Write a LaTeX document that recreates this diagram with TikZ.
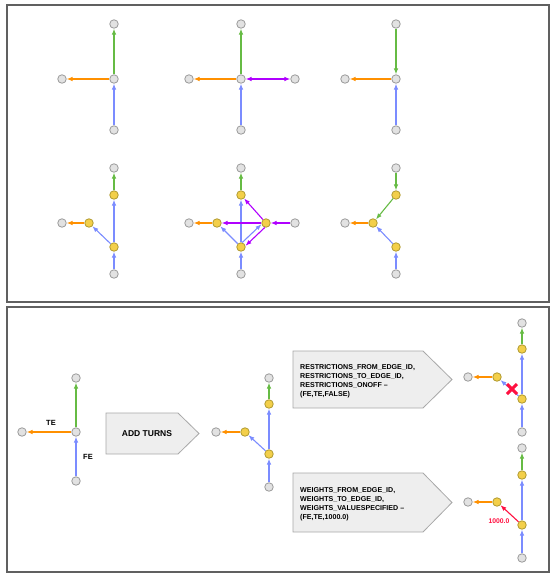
\documentclass[tikz,border=0pt]{standalone}
\usepackage{fontspec}
\setmainfont{Liberation Sans}
\usetikzlibrary{arrows.meta,shapes.misc}
\definecolor{cgreen}{HTML}{66BB44}
\definecolor{corange}{HTML}{FF9000}
\definecolor{cblue}{HTML}{7B8CFF}
\definecolor{cpurple}{HTML}{B000FF}
\definecolor{cred}{HTML}{FF1040}
\definecolor{gfill}{HTML}{E2E2E2}
\definecolor{gline}{HTML}{9A9A9A}
\definecolor{yfill}{HTML}{F3CF4A}
\definecolor{yline}{HTML}{B09A30}
\definecolor{frame}{HTML}{606060}
\definecolor{boxfill}{HTML}{EEEEEE}
\definecolor{boxline}{HTML}{A8A8A8}
\tikzset{
  gn/.style={circle,draw=gline,fill=gfill,minimum size=8.5pt,inner sep=0pt,line width=0.8pt},
  yn/.style={circle,draw=yline,fill=yfill,minimum size=8.5pt,inner sep=0pt,line width=0.8pt},
  ed/.style={line width=1.1pt,-{Latex[length=6pt,width=4.6pt]}},
  eg/.style={ed,draw=cgreen},
  eo/.style={ed,draw=corange},
  eb/.style={ed,draw=cblue},
  ep/.style={ed,draw=cpurple},
  er/.style={ed,draw=cred},
  panel/.style={draw=frame,line width=1.8pt},
  sig/.style={fill=boxfill,draw=boxline,line width=0.8pt},
  lbl/.style={font=\bfseries\fontsize{7.5}{9}\selectfont,inner sep=0pt},
  boxtxt/.style={font=\bfseries\fontsize{7.1}{9}\selectfont,align=left,inner sep=0pt,anchor=west}
}
\begin{document}
\begin{tikzpicture}[x=1pt,y=-1pt]
\useasboundingbox (0,0) rectangle (551,574);
\draw[panel] (7,5) rectangle (549,302);
\draw[panel] (7,307) rectangle (549,572);
% ---------- row 1 ----------
\node[gn] (at) at (114,24) {};
\node[gn] (ac) at (114,79) {};
\node[gn] (al) at (62,79) {};
\node[gn] (ab) at (114,130) {};
\draw[eg] (ac) -- (at);
\draw[eo] (ac) -- (al);
\draw[eb] (ab) -- (ac);
\node[gn] (bt) at (241,24) {};
\node[gn] (bc) at (241,79) {};
\node[gn] (bl) at (189,79) {};
\node[gn] (br) at (295,79) {};
\node[gn] (bb) at (241,130) {};
\draw[eg] (bc) -- (bt);
\draw[eo] (bc) -- (bl);
\draw[eb] (bb) -- (bc);
\draw[ep,{Latex[length=6pt,width=4.6pt]}-{Latex[length=6pt,width=4.6pt]}] (bc) -- (br);
\node[gn] (ct) at (396,24) {};
\node[gn] (cc) at (396,79) {};
\node[gn] (cl) at (345,79) {};
\node[gn] (cb) at (396,130) {};
\draw[eg] (ct) -- (cc);
\draw[eo] (cc) -- (cl);
\draw[eb] (cb) -- (cc);
% ---------- row 2 ----------
\node[gn] (dt) at (114,168) {};
\node[yn] (dyt) at (114,195) {};
\node[gn] (dl) at (62,223) {};
\node[yn] (dyl) at (89,223) {};
\node[yn] (dyb) at (114,247) {};
\node[gn] (db) at (114,274) {};
\draw[eg] (dyt) -- (dt);
\draw[eb] (dyb) -- (dyt);
\draw[eb] (db) -- (dyb);
\draw[eb] (dyb) -- (dyl);
\draw[eo] (dyl) -- (dl);
\node[gn] (et) at (241,168) {};
\node[yn] (eyt) at (241,195) {};
\node[gn] (el) at (189,223) {};
\node[yn] (eyl) at (217,223) {};
\node[yn] (eyr) at (266,223) {};
\node[gn] (er) at (295,223) {};
\node[yn] (eyb) at (241,247) {};
\node[gn] (eb) at (241,274) {};
\draw[eg] (eyt) -- (et);
\draw[eb] (eyb) -- (eyt);
\draw[eb] (eb) -- (eyb);
\draw[eb] (eyb) -- (eyl);
\draw[eb] (eyb.75) -- (eyr.195);
\draw[ep] (eyr.255) -- (eyb.15);
\draw[ep] (eyr) -- (eyt);
\draw[ep] (eyr) -- (eyl);
\draw[ep] (er) -- (eyr);
\draw[eo] (eyl) -- (el);
\node[gn] (ft) at (396,168) {};
\node[yn] (fyt) at (396,195) {};
\node[gn] (fl) at (345,223) {};
\node[yn] (fyl) at (373,223) {};
\node[yn] (fyb) at (396,247) {};
\node[gn] (fb) at (396,274) {};
\draw[eg] (ft) -- (fyt);
\draw[eg] (fyt) -- (fyl);
\draw[eb] (fb) -- (fyb);
\draw[eb] (fyb) -- (fyl);
\draw[eo] (fyl) -- (fl);
% ---------- bottom panel ----------
\node[gn] (gt) at (76,378) {};
\node[gn] (gc) at (76,432) {};
\node[gn] (gl) at (22,432) {};
\node[gn] (gb) at (76,481) {};
\draw[eg] (gc) -- (gt);
\draw[eo] (gc) -- (gl);
\draw[eb] (gb) -- (gc);
\node[lbl] (te) at (51,423) {TE};
\node[lbl] (fe) at (88,457) {FE};
\draw[sig] (106,413) -- (178,413) -- (199,433.5) -- (178,454) -- (106,454) -- cycle;
\node[lbl,font=\bfseries\fontsize{8.5}{10}\selectfont] (add) at (147,434) {ADD TURNS};
\node[gn] (ht) at (269,378) {};
\node[yn] (hyt) at (269,404) {};
\node[gn] (hl) at (216,432) {};
\node[yn] (hyl) at (245,432) {};
\node[yn] (hyb) at (269,454) {};
\node[gn] (hb) at (269,487) {};
\draw[eg] (hyt) -- (ht);
\draw[eb] (hyb) -- (hyt);
\draw[eb] (hb) -- (hyb);
\draw[eb] (hyb) -- (hyl);
\draw[eo] (hyl) -- (hl);
\draw[sig] (293,351) -- (423,351) -- (452,379.5) -- (423,408) -- (293,408) -- cycle;
\node[boxtxt] (rtxt) at (300,381.5) {RESTRICTIONS\_FROM\_EDGE\_ID,\\RESTRICTIONS\_TO\_EDGE\_ID,\\RESTRICTIONS\_ONOFF –\\(FE,TE,FALSE)};
\node[gn] (it) at (522,323) {};
\node[yn] (iyt) at (522,349) {};
\node[gn] (il) at (468,377) {};
\node[yn] (iyl) at (497,377) {};
\node[yn] (iyb) at (522,399) {};
\node[gn] (ib) at (522,432) {};
\draw[eg] (iyt) -- (it);
\draw[eb] (iyb) -- (iyt);
\draw[eb] (ib) -- (iyb);
\draw[eb] (iyb) -- (iyl);
\draw[eo] (iyl) -- (il);
\node[cross out,draw=cred,line width=3pt,minimum size=7pt,inner sep=0pt] (xx) at (512,389) {};
\draw[sig] (293,473) -- (423,473) -- (452,502.5) -- (423,532) -- (293,532) -- cycle;
\node[boxtxt] (wtxt) at (300,504.5) {WEIGHTS\_FROM\_EDGE\_ID,\\WEIGHTS\_TO\_EDGE\_ID,\\WEIGHTS\_VALUESPECIFIED –\\(FE,TE,1000.0)};
\node[gn] (jt) at (522,448) {};
\node[yn] (jyt) at (522,475) {};
\node[gn] (jl) at (468,502) {};
\node[yn] (jyl) at (497,502) {};
\node[yn] (jyb) at (522,525) {};
\node[gn] (jb) at (522,558) {};
\draw[eg] (jyt) -- (jt);
\draw[eb] (jyb) -- (jyt);
\draw[eb] (jb) -- (jyb);
\draw[er] (jyb) -- (jyl);
\draw[eo] (jyl) -- (jl);
\node[text=cred,font=\bfseries\fontsize{6.8}{8}\selectfont,inner sep=0pt] (wlbl) at (499,521) {1000.0};
\end{tikzpicture}
\end{document}
